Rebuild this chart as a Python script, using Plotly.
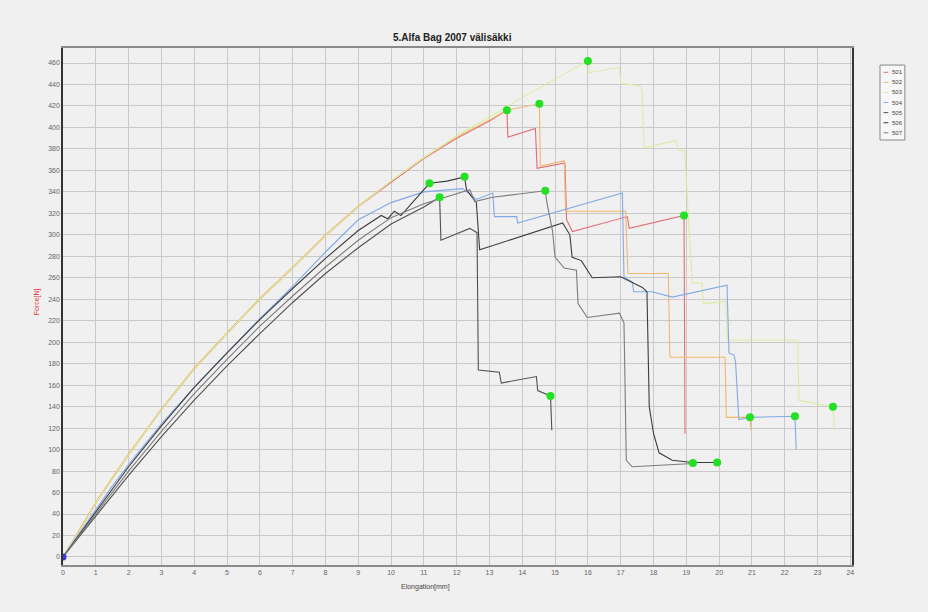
import plotly.graph_objects as go

# ---- measured series (elongation mm, force N) ----
series_names = ["501", "502", "503", "504", "505", "506", "507"]
series_colors = ["#e46c78", "#f0b86a", "#d8eea0", "#80aae8", "#505050", "#3c3c3c", "#7c7c7c"]

x_501 = [0, 0.5, 1, 1.5, 2, 3, 4, 5, 6, 7, 8, 9, 10, 11, 12, 13, 13.53, 13.56, 14.40, 14.45,
         15.30, 15.35, 15.53, 17.20, 17.26, 18.93, 18.96]
y_501 = [0, 24, 50, 73, 95, 137, 175, 208, 240, 269, 299, 326, 349, 371, 390, 406, 416, 391, 399, 362,
         367, 314, 303, 317, 306, 318, 115]

x_502 = [0, 0.5, 1, 1.5, 2, 3, 4, 5, 6, 7, 8, 9, 10, 11, 12, 13, 13.53, 14.52, 14.55, 15.28,
         15.32, 17.15, 17.22, 18.45, 18.50, 20.18, 20.22, 20.94, 20.97]
y_502 = [0, 25, 51, 74, 96, 138, 176, 209, 241, 270, 300, 327, 350, 372, 391, 407, 416, 422, 364, 369,
         322, 322, 264, 264, 186, 186, 130, 130, 118]

x_503 = [0, 0.5, 1, 1.5, 2, 3, 4, 5, 6, 7, 8, 9, 10, 11, 12, 13, 14, 15, 16, 16.05, 16.96, 17.0,
         17.56, 17.65, 17.72, 18.69, 18.75, 18.95, 19.18, 19.48, 19.52, 20.20, 20.25, 22.40, 22.43,
         23.47, 23.52]
y_503 = [0, 24, 50, 73, 95, 137, 175, 208, 240, 269, 299, 326, 350, 372, 392, 410, 428, 445, 462, 451, 456, 441,
         439, 435, 381, 388, 379, 378, 255, 255, 236, 238, 202, 202, 146,
         140, 118]

x_504 = [0, 0.5, 1, 1.5, 2, 3, 4, 5, 6, 7, 8, 9, 10, 11, 12.18, 12.6, 13.10, 13.15, 13.83, 13.86,
         17.05, 17.10, 17.35, 17.40, 17.95, 18.57, 20.24, 20.30, 20.45, 20.50, 20.60, 20.94, 22.31, 22.35]
y_504 = [0, 22, 44, 66, 86, 124, 158, 190, 222, 252, 284, 314, 330, 340, 343, 333, 339, 317, 317, 311,
         339, 261, 256, 247, 247, 242, 253, 190, 188, 182, 128, 130, 131, 100]

x_505 = [0, 0.5, 1, 1.5, 2, 3, 4, 5, 6, 7, 8, 9, 10, 11, 11.48, 11.52, 12.40, 12.62, 12.66, 13.30,
         13.36, 14.43, 14.47, 14.86, 14.90]
y_505 = [0, 19, 38, 58, 76, 112, 146, 178, 208, 237, 264, 288, 310, 326, 335, 295, 306, 302, 174, 172,
         162, 168, 155, 150, 118]

x_506 = [0, 0.5, 1, 1.5, 2, 3, 4, 5, 6, 7, 8, 9, 9.7, 9.9, 10.1, 10.3, 10.6, 11.17, 11.7, 12.24,
         12.30, 12.60, 12.70, 15.23, 15.45, 15.52, 15.80, 16.13, 17.00, 17.35, 17.66, 17.80, 17.87,
         18.00, 18.17, 18.57, 19.20, 19.94]
y_506 = [0, 21, 42, 63, 84, 122, 158, 190, 221, 250, 278, 304, 318, 315, 322, 318, 328, 348, 350, 354,
         342, 330, 286, 311, 300, 279, 276, 260, 261, 256, 251, 247, 140,
         115, 97, 90, 88, 88]

x_507 = [0, 0.5, 1, 1.5, 2, 3, 4, 5, 6, 7, 8, 9, 10, 11, 12, 12.40, 12.55, 13.10, 13.90, 14.70,
         14.75, 14.92, 15.00, 15.28, 15.65, 15.70, 15.98, 16.96, 17.10, 17.17, 17.35, 18.69, 19.20]
y_507 = [0, 20, 40, 60, 80, 117, 152, 184, 215, 243, 270, 295, 316, 329, 338, 342, 331, 335, 338, 341,
         330, 304, 279, 269, 267, 236, 223, 227, 218, 90, 84, 86, 87]

series_x = [x_501, x_502, x_503, x_504, x_505, x_506, x_507]
series_y = [y_501, y_502, y_503, y_504, y_505, y_506, y_507]

# peak / break points flagged by the test software
flag_x = [13.53, 14.52, 16.00, 11.17, 11.48, 12.24, 14.70,
          18.93, 14.86, 19.20, 19.94, 20.94, 22.31, 23.47]
flag_y = [416, 422, 462, 348, 335, 354, 341,
          318, 150, 87.5, 88, 130, 131, 140]

x_ticks = list(range(0, 25))
y_ticks = list(range(0, 461, 20))

fig = go.Figure()
for name, color, xs, ys in zip(series_names, series_colors, series_x, series_y):
    fig.add_trace(go.Scatter(x=xs, y=ys, mode="lines", name=name,
                             line=dict(color=color, width=1.1), showlegend=False))

fig.add_trace(go.Scatter(x=flag_x, y=flag_y, mode="markers", showlegend=False,
                         marker=dict(color="#22e022", size=8)))
fig.add_trace(go.Scatter(x=[0], y=[0], mode="markers", showlegend=False,
                         marker=dict(color="#3a3ad8", size=7)))

axis_font = dict(family="Liberation Sans, Arial, sans-serif", size=7, color="#666666")
fig.update_xaxes(range=[0, 24.05], tickvals=x_ticks, ticktext=[str(v) for v in x_ticks],
                 showgrid=True, gridcolor="#c9c9c9", gridwidth=1, zeroline=False,
                 showline=True, linecolor="#8a8a8a", linewidth=2, mirror=True,
                 ticks="", tickfont=axis_font)
fig.update_yaxes(range=[-7.5, 474], tickvals=y_ticks, ticktext=[str(v) for v in y_ticks],
                 showgrid=True, gridcolor="#c9c9c9", gridwidth=1, zeroline=False,
                 showline=True, linecolor="#333333", linewidth=1.5, mirror=True,
                 ticks="", tickfont=axis_font)

# legend box drawn beside the plot
shapes = [dict(type="rect", xref="paper", yref="paper", x0=1.0355, x1=1.067, y0=0.822, y1=0.967,
               line=dict(color="#888888", width=1), fillcolor="#f7f7f7")]
annotations = []
for i, (name, color) in enumerate(zip(series_names, series_colors)):
    yp = 0.953 - i * 0.0195
    shapes.append(dict(type="line", xref="paper", yref="paper", x0=1.040, x1=1.046, y0=yp, y1=yp,
                       line=dict(color=color, width=1)))
    annotations.append(dict(text=name, xref="paper", yref="paper", x=1.048, y=yp, xanchor="left",
                            yanchor="middle", showarrow=False,
                            font=dict(family="Liberation Sans, Arial, sans-serif", size=6, color="#444444")))

annotations += [
    dict(text="<b>5.Alfa Bag 2007 välisäkki</b>", xref="paper", yref="paper", x=0.494, y=1.021,
         xanchor="center", yanchor="middle", showarrow=False,
         font=dict(family="Liberation Sans, Arial, sans-serif", size=10, color="#222222")),
    dict(text="Elongation[mm]", xref="paper", yref="paper", x=0.459, y=-0.043,
         xanchor="center", yanchor="middle", showarrow=False,
         font=dict(family="Liberation Sans, Arial, sans-serif", size=7, color="#444444")),
    dict(text="Force[N]", xref="paper", yref="paper", x=-0.033, y=0.51, textangle=-90,
         xanchor="center", yanchor="middle", showarrow=False,
         font=dict(family="Liberation Sans, Arial, sans-serif", size=7, color="#e03030")),
]

fig.update_layout(width=928, height=612, autosize=False,
                  margin=dict(l=63, r=76, t=48, b=47),
                  paper_bgcolor="#f0f0f0", plot_bgcolor="#f0f0f0",
                  shapes=shapes, annotations=annotations, showlegend=False)

fig.write_html("out.html")
